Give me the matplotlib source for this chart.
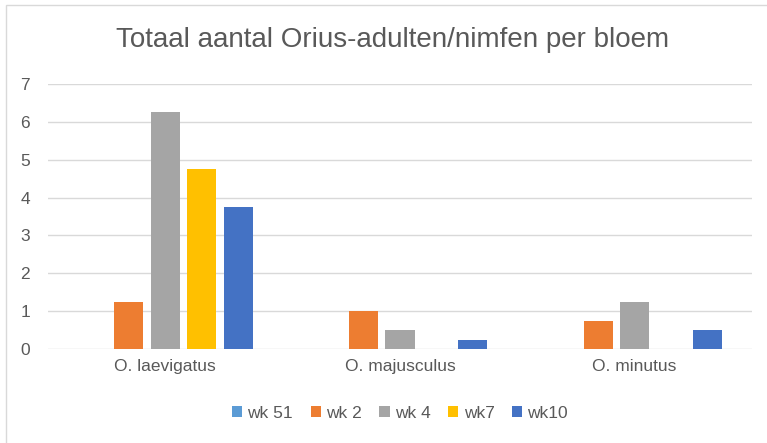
import numpy as np
import matplotlib
matplotlib.use("Agg")
import matplotlib.pyplot as plt
from matplotlib.patches import Rectangle

plt.rcParams['font.family'] = ['Liberation Sans', 'DejaVu Sans']

# data
categories = ['O. laevigatus', 'O. majusculus', 'O. minutus']
series_names = ['wk 51', 'wk 2', 'wk 4', 'wk7', 'wk10']
wk51 = [0, 0, 0]
wk2 = [1.25, 1.0, 0.75]
wk4 = [6.25, 0.5, 1.25]
wk7 = [4.75, 0, 0]
wk10 = [3.75, 0.25, 0.5]
colors = ['#5B9BD5', '#ED7D31', '#A5A5A5', '#FFC000', '#4472C4']
yticks = [0, 1, 2, 3, 4, 5, 6, 7]

txt = '#595959'
W, H = 767, 443
fig = plt.figure(figsize=(W / 100, H / 100), dpi=100)
ax = fig.add_axes([48 / W, 1 - 349 / H, (752 - 48) / W, (349 - 84) / H])

x = np.arange(len(categories))
pitch = 0.1555
bw = 0.1236
for i, (vals, name) in enumerate(zip([wk51, wk2, wk4, wk7, wk10], series_names)):
    ax.bar(x + (i - 2) * pitch, vals, bw, color=colors[i], label=name, zorder=3)

ax.set_xlim(-0.5, 2.5)
ax.set_ylim(0, 7)
ax.set_yticks(yticks)
ax.set_xticks(x)
ax.set_xticklabels(categories)
ax.tick_params(axis='both', length=0, labelsize=12.5, colors=txt)
ax.tick_params(axis='y', pad=13)
ax.tick_params(axis='x', pad=7)
ax.grid(axis='y', color='#D9D9D9', linewidth=1, zorder=0)
for s in ax.spines.values():
    s.set_visible(False)

fig.text(393 / W, 1 - 40 / H, 'Totaal aantal Orius-adulten/nimfen per bloem',
         ha='center', va='center', fontsize=20, color=txt)

leg = fig.legend(loc='center', bbox_to_anchor=(400 / W, 1 - 413 / H), ncol=5,
                 frameon=False, fontsize=12.5, handlelength=0.6, handleheight=0.6,
                 handletextpad=0.3, columnspacing=1.0)
for t in leg.get_texts():
    t.set_color(txt)

# chart area border
fig.patches.append(Rectangle((6 / W, -0.1), 1.2, 1 - 5 / H + 0.1, transform=fig.transFigure,
                             fill=False, edgecolor='#D9D9D9', linewidth=1))

fig.savefig('out.png', dpi=100)
